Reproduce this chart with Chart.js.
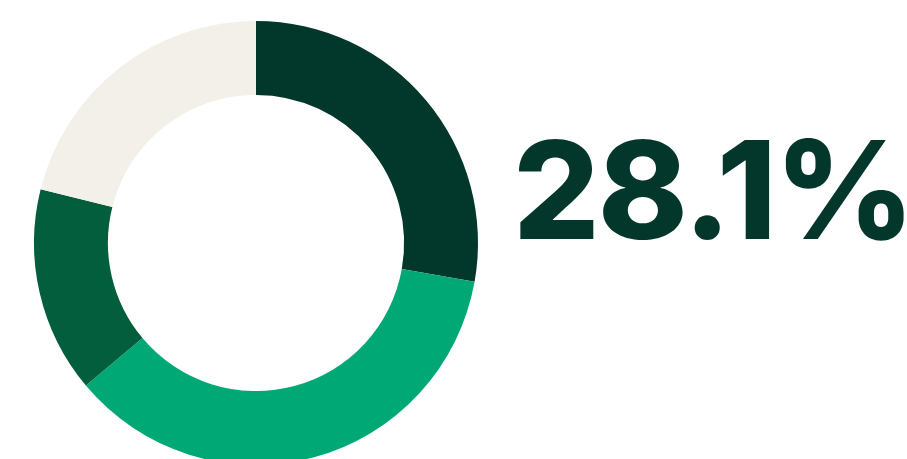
<!DOCTYPE html>
<html>
<head>
<meta charset="utf-8">
<script src="https://cdn.jsdelivr.net/npm/chart.js@4"></script>
<style>
  html, body { margin: 0; padding: 0; background: #ffffff; overflow: hidden; }
  #wrap { position: relative; width: 907px; height: 459px; }
  #grafico { position: absolute; left: 0; top: 0; }
  #valor {
    position: absolute; left: 513px; top: 122px;
    font-family: "Inter", sans-serif; font-weight: 800; font-size: 136px;
    color: #03372c; letter-spacing: -2px; line-height: 1; white-space: nowrap;
  }
</style>
</head>
<body>
<div id="wrap">
  <canvas id="grafico" width="512" height="486"></canvas>
  <div id="valor">28.1%</div>
</div>
<script>
const segmentos = ["Segmento 1", "Segmento 2", "Segmento 3", "Segmento 4"];
const valores   = [27.8, 36.1, 15.0, 21.1];
const colores   = ["#02372c", "#00a876", "#025e3c", "#f2f0e8"];

const ctx = document.getElementById("grafico").getContext("2d");
new Chart(ctx, {
  type: "doughnut",
  data: {
    labels: segmentos,
    datasets: [{ data: valores, backgroundColor: colores, borderWidth: 0, hoverOffset: 0 }]
  },
  options: {
    responsive: false,
    animation: false,
    cutout: "66.7%",
    layout: { padding: 21 },
    plugins: { legend: { display: false }, tooltip: { enabled: false } }
  }
});
</script>
</body>
</html>
